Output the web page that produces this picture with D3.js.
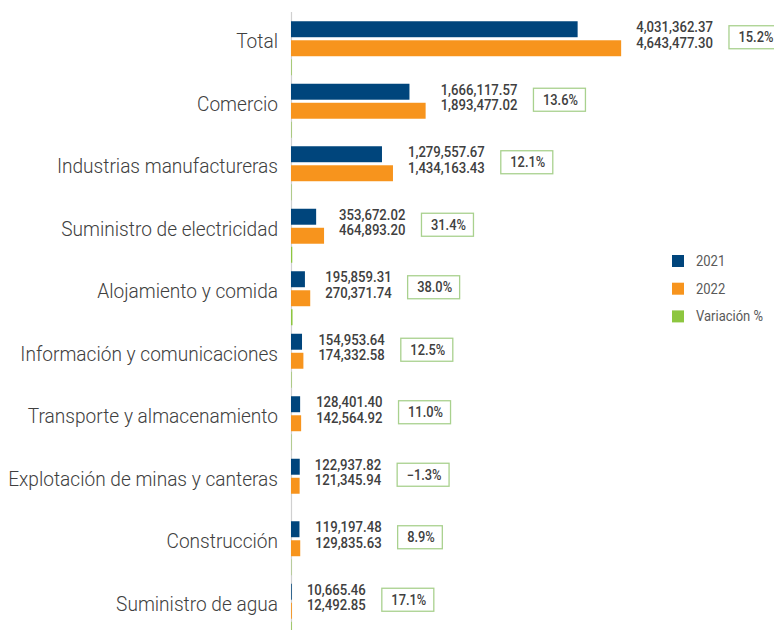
<!DOCTYPE html>
<html>
<head>
<meta charset="utf-8">
<script src="https://cdn.jsdelivr.net/npm/d3@7"></script>
<style>
  body { margin: 0; background: #fff; }
  svg { display: block; font-family: Roboto, "Noto Sans", sans-serif; }
</style>
</head>
<body>
<div id="chart"></div>
<script>
const categories = ["Total", "Comercio", "Industrias manufactureras", "Suministro de electricidad",
    "Alojamiento y comida", "Información y comunicaciones", "Transporte y almacenamiento",
    "Explotación de minas y canteras", "Construcción", "Suministro de agua"];
const values2021 = [4031362.37, 1666117.57, 1279557.67, 353672.02, 195859.31, 154953.64,
    128401.40, 122937.82, 119197.48, 10665.46];
const values2022 = [4643477.30, 1893477.02, 1434163.43, 464893.20, 270371.74, 174332.58,
    142564.92, 121345.94, 129835.63, 12492.85];
const variation = [15.2, 13.6, 12.1, 31.4, 38.0, 12.5, 11.0, -1.3, 8.9, 17.1];
const seriesNames = ["2021", "2022", "Variación %"];
const colors = ["#00457c", "#f7941d", "#8dc63f"];

const width = 774, height = 630;

const svg = d3.select("#chart").append("svg")
    .attr("width", width)
    .attr("height", height);

const x = d3.scaleLinear().domain([0, 5000000]).range([291, 646.5]);
// variation series drawn on its own (tiny) scale
const xVar = d3.scaleLinear().domain([0, 50]).range([0, 2]);

const y = d3.scaleBand().domain(categories).range([10, 635]);
const ySub = d3.scaleBand().domain(seriesNames).range([-20, 34]).paddingInner(0.16);

const fmt = d3.format(",.2f");
const fmtPct = d => d3.format(".1f")(d) + "%";

// helper: squeezed text at a position (fakes a condensed face)
function ctext(parent, px, py, str, opts) {
    const g = parent.append("g").attr("transform", `translate(${px},${py}) scale(${opts.sx},1)`);
    return g.append("text")
        .attr("text-anchor", opts.anchor || "start")
        .style("font-size", opts.size + "px")
        .style("font-weight", opts.weight || 400)
        .style("fill", opts.fill || "#404040")
        .text(str);
}

// axis line
svg.append("line")
    .attr("x1", 291.5).attr("x2", 291.5)
    .attr("y1", 12).attr("y2", height)
    .attr("stroke", "#d0d0d0")
    .attr("stroke-width", 1.2);

const groups = svg.selectAll(".cat")
    .data(categories)
    .enter().append("g")
    .attr("class", "cat")
    .attr("transform", d => `translate(0,${y(d) + y.bandwidth() / 2})`);

groups.each(function(cat, i) {
    const g = d3.select(this);

    // category label
    ctext(g, 278, 7, cat, { anchor: "end", size: 20, weight: 300, sx: 0.955, fill: "#404040" });

    // bars
    g.append("rect")
        .attr("x", x(0)).attr("y", ySub("2021"))
        .attr("width", x(values2021[i]) - x(0)).attr("height", ySub.bandwidth())
        .attr("fill", colors[0]);
    g.append("rect")
        .attr("x", x(0)).attr("y", ySub("2022"))
        .attr("width", x(values2022[i]) - x(0)).attr("height", ySub.bandwidth())
        .attr("fill", colors[1]);
    g.append("rect")
        .attr("x", x(0)).attr("y", ySub("Variación %"))
        .attr("width", Math.max(0, xVar(variation[i])))
        .attr("height", ySub.bandwidth())
        .attr("fill", colors[2]);

    // value labels
    const lx = x(Math.max(values2021[i], values2022[i])) + 15;
    const t1 = ctext(g, lx, -9, fmt(values2021[i]), { size: 14, weight: 500, sx: 0.94 });
    const t2 = ctext(g, lx, 6.5, fmt(values2022[i]), { size: 14, weight: 500, sx: 0.94 });
    const labelW = Math.max(t1.node().getComputedTextLength(), t2.node().getComputedTextLength()) * 0.94;

    // variation box
    const bx = lx + labelW + 16;
    const box = g.append("rect")
        .attr("x", bx).attr("y", -4 - 11.5)
        .attr("height", 23)
        .attr("fill", "#fff")
        .attr("stroke", "#a9d18e")
        .attr("stroke-width", 1.3);
    const pt = ctext(g, 0, 0, fmtPct(variation[i]), { size: 14, weight: 500, sx: 0.92, anchor: "middle" });
    const pw = pt.node().getComputedTextLength() * 0.92;
    box.attr("width", pw + 17);
    d3.select(pt.node().parentNode)
        .attr("transform", `translate(${bx + (pw + 17) / 2 + 1},${-4 + 5}) scale(0.92,1)`);
});

// legend
const legend = svg.selectAll(".legend")
    .data(seriesNames)
    .enter().append("g")
    .attr("class", "legend")
    .attr("transform", (d, i) => `translate(672,${261 + i * 27.7})`);

legend.append("rect")
    .attr("x", 0).attr("y", -6)
    .attr("width", 12).attr("height", 12)
    .attr("fill", (d, i) => colors[i]);

legend.each(function(d) {
    ctext(d3.select(this), 24, 5, d, { size: 14, weight: 400, sx: 0.93, fill: "#595959" });
});
</script>
</body>
</html>
